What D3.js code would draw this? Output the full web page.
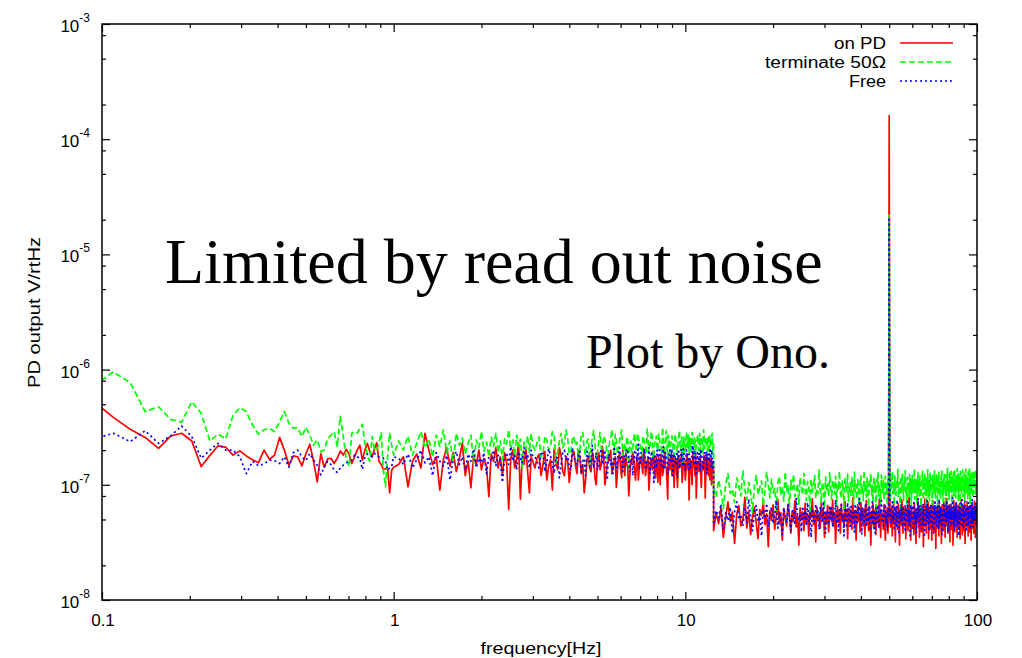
<!DOCTYPE html>
<html><head><meta charset="utf-8">
<script src="https://cdn.jsdelivr.net/npm/d3@7"></script>
<style>body{margin:0;background:#fff}svg{display:block}</style>
</head><body>
<svg id="chart" width="1022" height="658"></svg>
<script>
// ---------- data (values in units of 1e-9 V/rtHz) ----------
const seriesNames  = ["on PD", "terminate 50\u03A9", "Free"];
const seriesColors = ["#ff0000", "#00ff00", "#0000ff"];
const seriesDashes = [null, "6,3", "2,3"];

const xTickValues = [0.1, 1, 10, 100];
const xTickLabels = ["0.1", "1", "10", "100"];
const yTickExponents = [-8, -7, -6, -5, -4, -3];
const xTitle = "frequency[Hz]";
const yTitle = "PD output V/rtHz";
const noteMain = "Limited by read out noise";
const noteSub = "Plot by Ono.";

// frequency span [first bin, last bin] of each segment, Hz (bins evenly spaced)
const segSpans = [[6 / 64, 1.0], [1.04, 3.0], [3.05, 12.5], [12.5, 49.75], [50, 50], [50.25, 100]];

const redSeg1 = [530,385,303,258,207,265,280,240,144,180,218,212,181,197,178,165,155,200,166,181,258,200,148,178,175,146,185,225,160,106,187,142,168,170,153,170,196,181,203,185,153,175,200,221,164,200,229,195,175,205,232,160,150,136,138,139,85,134,142];
const greenSeg1 = [720,955,770,432,476,370,349,525,420,240,275,250,400,467,432,330,275,300,310,289,353,432,342,310,313,262,316,270,221,245,194,200,250,270,289,214,393,262,170,144,280,289,280,310,335,229,180,160,262,200,200,229,283,134,96,175,280,221,181];
const blueSeg1 = [250,280,237,295,229,265,324,262,170,200,229,200,200,175,125,160,146,152,164,162,153,175,142,190,200,175,162,187,164,148,122,142,160,150,134,128,140,148,155,160,164,181,175,170,136,175,185,180,175,187,180,175,175,170,160,134,140,144,175];

const redSeg2 = [150,175,96,160,185,140,280,200,150,175,90,165,210,145,190,130,170,230,120,160,94,180,150,200,135,170,145,79,185,160,210,140,175,120,190,155,61,170,200,140,165,230,75,180,150,210,130,85,175,160];
const greenSeg2 = [240,200,265,180,230,290,210,250,175,270,215,300,190,240,160,280,220,255,185,230,270,150,245,210,290,195,235,175,260,215,280,190,240,165,250,225,300,200,245,180,270,215,250,140,235,205,265,190,280,220];
const blueSeg2 = [170,150,185,140,165,200,155,175,120,190,160,145,180,110,170,195,150,175,135,185,160,205,140,170,155,190,125,175,160,200,145,180,165,105,175,190,150,215,160,180,135,195,170,155,210,165,185,140,200,175];

const redSeg3 = [140,170,185,120,150,195,110,145,165,90,205,160,135,210,180,130,120,175,160,105,145,185,195,150,125,200,170,125,150,85,110,165,180,140,130,190,165,115,100,170,190,135,150,215,175,100,120,155,160,180,200,125,140,160,175,95,130,175,185,140,115,200,165,120,190,150,140,80,120,165,155,190,175,130,110,155,185,110,140,175,165,145,125,205,180,120,135,160,170,90,115,170,160,135,195,185,130,115,175,150,105,175,150,100,185,160,120,130,165,195,145,140,110,75,175,165,135,150,190,120,155,180,95,135,170,160,125,95,180,170,140,145,160,190,105,125,175,155,150,110,130,175,185,140,165,74,120,165,150,130,100,185,170,150,140,120,185,77,115,160,160,140,130,175,175,115,95,150,155,135,140,180,165,77,120,145,180,160,135,120,150,170,110,135,170,100,125,155,160,130];
const greenSeg3 = [200,230,260,175,185,265,245,200,215,290,270,155,195,240,280,210,225,300,250,185,190,250,265,220,235,170,205,275,285,205,180,240,250,145,215,260,295,225,170,195,240,285,205,210,265,250,225,165,190,235,255,300,220,190,275,245,185,215,240,270,300,180,205,230,170,255,260,140,225,240,190,205,250,280,215,195,280,260,235,220,195,175,265,250,230,215,185,310,250,190,210,235,290,260,175,170,240,245,265,205,200,275,250,225,220,185,315,255,185,210,245,295,215,165,270,240,190,220,255,265,230,195,180,250,275,230,210,180,245,270,295,215,200,245,260,150,225,260,185,205,250,285,210,230,270,190,240,255,195,215,285,270,225,175,255,240,190,225,240,260,270,200,215,280,180,215,260,245,230,185,300,265,205,230,245,255,220,195,265,240,190,270,250,215,230,250,280,190,210,235];
const blueSeg3 = [175,160,140,185,195,130,155,205,180,150,125,175,170,115,150,190,200,165,185,140,135,210,175,155,150,180,195,125,160,170,120,195,185,145,165,220,140,160,190,135,155,185,205,150,170,200,135,110,185,175,150,160,125,215,190,140,160,190,210,165,175,130,145,180,165,205,195,155,130,170,180,120,155,195,200,160,170,225,140,145,190,175,160,190,205,135,150,165,175,210,125,150,195,180,160,105,185,170,140,200,170,155,210,185,150,140,180,215,135,165,190,175,165,125,145,190,200,160,175,205,120,145,185,180,155,170,195,115,170,195,140,160,180,210,160,150,205,175,145,135,175,200,190,165,130,185,170,140,150,170,185,220,165,155,200,180,140,120,175,190,155,165,195,150,135,205,180,175,160,135,150,185,190,160,170,195,125,145,185,170,160,180,200,155,145,200,175,140,155,165];

const redSeg4a = [40,57,46,63,35,52,71,48,58,31,55,66,44,50,78,42,59,37,53,64,47,34,61,54,70,45,56,29,60,49,67,41,53,75,46,57,33,62,51,44,68,55,38,59,48,73,43,54,30,63,50,58,40,69,47,56,36,61,52,76,45,57,32,64,49,55,42,71,51,60,35,58,46,66,39,54,62,48,74,44,57,31,53,65,47,59,38,68,50,56,43,72,49,61,34,55,63,46,58,41,77,52,45,60,33,57,67,48,54,39,70,51,59,44,62,36,56,73,47,53,40,65,50,30,58,46,69,42,55,61,37,64,49,57,43,75,52,35,60,48,56,41,67,50,33,59,46,63,38,54];
const greenSeg4a = [95,78,110,88,62,101,125,84,92,70,115,99,80,132,90,74,105,86,58,97,120,83,94,108,66,89,128,100,77,112,85,93,60,104,118,81,96,72,130,88,99,64,110,91,123,79,87,102,68,115,94,82,126,90,73,107,98,57,112,86,100,121,76,93,84,134,89,70,105,95,63,117,88,101,79,127,92,74,109,97,83,119,66,102,90,131,85,77,108,94,59,113,99,87,124,72,96,105,81,116,91,68,129,86,100,75,111,93,61,106,120,84,97,73,133,89,103,78,115,92,65,108,96,125,82,99,71,118,87,104,58,112,94,127,80,101,90,69,122,95,86,110,74,98,119,83,102,67,114,91];
const blueSeg4a = [45,60,52,68,41,57,49,64,38,58,71,50,55,44,62,47,75,53,40,59,66,48,56,36,61,51,69,43,57,64,46,54,73,42,59,50,37,63,55,47,67,52,40,58,61,45,77,53,49,56,39,65,51,60,44,70,48,57,35,62,54,46,68,50,59,41,64,55,47,72,52,38,60,57,45,66,49,63,43,58,51,74,46,56,40,61,53,67,48,55,36,63,58,44,70,50,57,42,65,52,47,60,39,68,54,45,62,56,76,49,59,37,64,51,46,57,69,43,55,61,48,66,40,58,53,71,45,60,50,38,63,55,47,67,52,42,59,56,73,49,57,44,62,51,68,46,55,40,60,53];

// 50 Hz line
const redPeak = [160000];
const greenPeak = [22000];
const bluePeak = [21000];

const redSeg4b = [55,43,62,50,36,59,71,46,53,32,64,48,57,41,68,52,30,60,45,56,74,49,38,61,53,44,66,34,58,51,63,40,55,78,47,59,33,54,65,42,57,50,37,69,46,60,31,55,62,48,72,43,56,35,64,51,58,39,67,45,53,29,61,49,75,44,57,38,63,52,46,70,34,59,55,41,66,48,60,33,56,73,45,54,39,65,50,58,28,62,47,57,42,69,51,36,60,53,64,44,58,31,55,67,48,61,40,71,46,57,35,63,52,45,76,49,59,38,54,66,43,56,32,62,50,68,41,58,47,60,30,55,73,46,64,39,57,51,44,70,53,35,61,48,58,42,67,50,56,34,63,47,74,45,59,37,55,65,49,60,40,69,52,31,57,46,62,54,43,71,48,58,36,64,51,56,39,66,45,61,53,33,59,47,68,42,57,50,64,38,55,72,46,60,35,62,49,58,44,54];
const greenSeg4b = [98,76,115,89,130,84,102,67,120,93,81,110,96,136,78,105,88,62,118,99,85,127,92,73,108,100,133,82,95,69,116,90,104,79,125,87,111,64,98,121,83,106,94,138,75,101,89,113,70,97,128,86,109,80,119,92,60,105,96,131,88,74,112,99,123,84,103,66,117,91,135,79,100,108,72,126,94,86,115,98,68,121,90,110,82,132,95,77,106,101,124,87,63,113,97,129,83,104,92,75,119,100,136,85,108,71,116,94,127,89,102,66,122,97,81,111,139,88,105,93,74,125,99,114,84,131,91,70,118,103,96,128,80,107,135,90,112,77,120,98,86,138,94,109,73,124,101,87,116,65,130,96,105,83,121,92,134,79,110,99,88,126,72,115,102,137,85,97,119,90,108,76,129,94,113,82,140,100,68,117,95,123,87,106,132,91,78,114,99,127,84,103,120,93,136,81,109,97,125,101];
const blueSeg4b = [54,63,46,58,71,49,56,40,65,52,60,44,74,51,57,37,62,55,48,68,53,43,59,66,50,57,39,64,55,47,72,52,61,45,58,36,67,54,49,63,56,42,70,51,59,46,64,38,57,53,76,48,60,44,66,55,50,41,62,58,47,69,53,35,61,56,45,65,51,73,48,58,40,63,54,60,46,68,52,43,57,64,49,38,62,55,71,47,59,53,44,67,56,50,61,41,75,52,58,46,64,54,37,60,57,49,70,45,62,53,66,42,58,51,73,48,56,61,39,65,55,47,68,52,59,44,63,57,50,77,46,60,54,40,66,53,58,48,71,51,43,62,56,65,47,59,36,64,52,69,50,57,45,61,55,74,49,60,42,67,54,58,46,72,51,63,39,57,55,66,48,61,44,70,53,59,47,64,56,41,68,52,60,45,75,50,57,43,63,55,49,67,53,61,46,70,58,51,65,54];

// ---------- build series ----------
function seg(span, vals) {
  const n = vals.length;
  return vals.map((v, i) => ({
    f: n > 1 ? span[0] + (span[1] - span[0]) * i / (n - 1) : span[0],
    v: v * 1e-9
  }));
}
function buildSeries(segs) {
  return [].concat(...segs.map((vals, i) => seg(segSpans[i], vals)));
}
const series = [
  buildSeries([redSeg1, redSeg2, redSeg3, redSeg4a, redPeak, redSeg4b]),
  buildSeries([greenSeg1, greenSeg2, greenSeg3, greenSeg4a, greenPeak, greenSeg4b]),
  buildSeries([blueSeg1, blueSeg2, blueSeg3, blueSeg4a, bluePeak, blueSeg4b])
];

// ---------- layout ----------
const L = 102, R = 977, T = 24, B = 600;
const svg = d3.select("#chart");
const x = d3.scaleLog().domain([0.1, 100]).range([L, R]);
const y = d3.scaleLog().domain([1e-8, 1e-3]).range([B, T]);

const fontSans = "'Liberation Sans', Arial, Helvetica, sans-serif";
const fontSerif = "'Liberation Serif', 'Times New Roman', serif";

svg.append("defs").append("clipPath").attr("id", "clip")
  .append("rect").attr("x", L).attr("y", T).attr("width", R - L).attr("height", B - T);

// data lines
const line = d3.line().x(d => x(d.f)).y(d => y(d.v));
const gData = svg.append("g").attr("clip-path", "url(#clip)");
series.forEach((s, i) => {
  gData.append("path").datum(s)
    .attr("d", line)
    .attr("fill", "none")
    .attr("stroke", seriesColors[i])
    .attr("stroke-width", 1.7)
    .attr("stroke-dasharray", seriesDashes[i])
    .attr("stroke-linejoin", "round");
});

// axes ticks (inward, all four sides)
const xMajor = xTickValues;
const xMinor = [];
for (let d = 0.1; d < 100; d *= 10) for (let m = 2; m <= 9; m++) xMinor.push(d * m);
const yMajor = yTickExponents.map(e => Math.pow(10, e));
const yMinor = [];
yTickExponents.slice(0, -1).forEach(e => [2, 5, 8].forEach(m => yMinor.push(m * Math.pow(10, e))));

function styleAxis(g) {
  g.select(".domain").remove();
  g.selectAll("line").attr("stroke", "#000").attr("stroke-width", 1.2);
  g.selectAll("text").remove();
}
const axes = [
  [d3.axisBottom(x), `translate(0,${B})`, xMajor, xMinor],
  [d3.axisTop(x), `translate(0,${T})`, xMajor, xMinor],
  [d3.axisLeft(y), `translate(${L},0)`, yMajor, yMinor],
  [d3.axisRight(y), `translate(${R},0)`, yMajor, yMinor]
];
axes.forEach(([ax, tr, maj, min]) => {
  svg.append("g").attr("transform", tr).call(ax.tickValues(maj).tickSize(-8).tickFormat("")).call(styleAxis);
  svg.append("g").attr("transform", tr).call(ax.tickValues(min).tickSize(-4).tickFormat("")).call(styleAxis);
});

// frame
svg.append("rect").attr("x", L).attr("y", T).attr("width", R - L).attr("height", B - T)
  .attr("fill", "none").attr("stroke", "#000").attr("stroke-width", 1.5);

// x tick labels
svg.append("g").selectAll("text").data(xTickValues).join("text")
  .attr("x", d => x(d) + 1).attr("y", B + 26)
  .attr("text-anchor", "middle").attr("font-family", fontSans).attr("font-size", 17)
  .text((d, i) => xTickLabels[i]);

// y tick labels with superscript
const yl = svg.append("g").selectAll("text").data(yTickExponents).join("text")
  .attr("x", 90).attr("y", e => y(Math.pow(10, e)) + 8)
  .attr("text-anchor", "end").attr("font-family", fontSans).attr("font-size", 17);
yl.append("tspan").text("10");
yl.append("tspan").attr("dy", -10).attr("font-size", 12).text(e => e);

// axis titles
svg.append("text").attr("x", 541).attr("y", 654).attr("text-anchor", "middle")
  .attr("font-family", fontSans).attr("font-size", 16)
  .attr("textLength", 121).attr("lengthAdjust", "spacingAndGlyphs").text(xTitle);
svg.append("text").attr("transform", "translate(40,312.5) rotate(-90)").attr("text-anchor", "middle")
  .attr("font-family", fontSans).attr("font-size", 16)
  .attr("textLength", 151).attr("lengthAdjust", "spacingAndGlyphs").text(yTitle);

// annotations
svg.append("text").attr("x", 165).attr("y", 283).attr("font-family", fontSerif)
  .attr("font-size", 64).text(noteMain);
svg.append("text").attr("x", 586).attr("y", 368).attr("font-family", fontSerif)
  .attr("font-size", 48).text(noteSub);

// legend
const legendWidths = [52, 121, 37];
const lg = svg.append("g");
seriesNames.forEach((name, i) => {
  const ly = 43 + i * 19;
  lg.append("text").attr("x", 886).attr("y", ly + 5.5).attr("text-anchor", "end")
    .attr("font-family", fontSans).attr("font-size", 16)
    .attr("textLength", legendWidths[i]).attr("lengthAdjust", "spacingAndGlyphs").text(name);
  lg.append("line").attr("x1", 900).attr("x2", 953).attr("y1", ly).attr("y2", ly)
    .attr("stroke", seriesColors[i]).attr("stroke-width", 1.3)
    .attr("stroke-dasharray", seriesDashes[i]);
});
</script>
</body></html>
